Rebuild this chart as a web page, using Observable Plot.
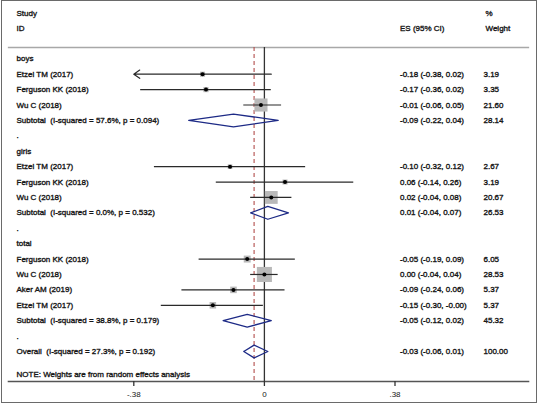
<!DOCTYPE html>
<html><head><meta charset="utf-8">
<script src="https://cdn.jsdelivr.net/npm/d3@7"></script>
<script src="https://cdn.jsdelivr.net/npm/@observablehq/plot@0.6"></script>
<style>
html,body{margin:0;padding:0;background:#fff;}
#wrap{position:relative;width:538px;height:408px;}
#border{position:absolute;left:0.5px;top:0;width:536px;height:403px;border:1.5px solid #6a6a6a;box-sizing:border-box;pointer-events:none;}
</style></head>
<body><div id="wrap"><div id="border"></div></div>
<script>
const groupNames = ["boys", "girls", "total"];
const studyGroup = ["boys","boys","boys","girls","girls","girls","total","total","total","total"];
const studyNames = ["Etzel TM (2017)","Ferguson KK (2018)","Wu C (2018)",
                    "Etzel TM (2017)","Ferguson KK (2018)","Wu C (2018)",
                    "Ferguson KK (2018)","Wu C (2018)","Aker AM (2019)","Etzel TM (2017)"];
const studyES     = [-0.18, -0.17, -0.01, -0.10, 0.06, 0.02, -0.05, 0.00, -0.09, -0.15];
const studyLo     = [-0.38, -0.36, -0.06, -0.32, -0.14, -0.04, -0.19, -0.04, -0.24, -0.30];
const studyHi     = [0.02, 0.02, 0.05, 0.12, 0.26, 0.08, 0.09, 0.04, 0.06, -0.003];
const studyWeight = [3.19, 3.35, 21.60, 2.67, 3.19, 20.67, 6.05, 28.53, 5.37, 5.37];
const subES     = [-0.09, 0.01, -0.05];
const subLo     = [-0.22, -0.04, -0.12];
const subHi     = [0.04, 0.07, 0.02];
const subWeight = [28.14, 26.53, 45.32];
const subI2     = [57.6, 0.0, 38.8];
const subP      = [0.094, 0.532, 0.179];
const overallES = -0.03, overallLo = -0.06, overallHi = 0.01, overallWeight = 100.00;
const overallI2 = 27.3, overallP = 0.192;
const xTicks = [-0.38, 0, 0.38];
const xTickLabels = ["-.38", "0", ".38"];
const noteText = "NOTE: Weights are from random effects analysis";

const f2 = v => v.toFixed(2);
const esText = (e, l, h) => `${f2(e)} (${f2(l)}, ${f2(h)})`;

// build rows
const rows = [];
let idx = 0;
groupNames.forEach((g, gi) => {
  rows.push({i: idx++, type: "group", label: g});
  studyNames.forEach((n, k) => {
    if (studyGroup[k] !== g) return;
    rows.push({i: idx++, type: "study", label: n, es: studyES[k], lo: studyLo[k], hi: studyHi[k], w: studyWeight[k]});
  });
  rows.push({i: idx++, type: "sub", label: `Subtotal\u00a0 (I-squared = ${subI2[gi].toFixed(1)}%, p = ${subP[gi].toFixed(3)})`,
             es: subES[gi], lo: subLo[gi], hi: subHi[gi], w: subWeight[gi]});
  rows.push({i: idx++, type: "dot", label: "."});
});
rows.push({i: idx++, type: "sub", label: `Overall\u00a0 (I-squared = ${overallI2.toFixed(1)}%, p = ${overallP.toFixed(3)})`,
           es: overallES, lo: overallLo, hi: overallHi, w: overallWeight});

const studies = rows.filter(r => r.type === "study");
const pooled = rows.filter(r => r.type === "sub");
const valued = rows.filter(r => r.es !== undefined);
const xMin = d3.min(xTicks);
const arrowRows = studies.filter(r => r.lo <= xMin);
const lineRows = studies.filter(r => r.lo > xMin);

const halfH = 0.415;
const diamonds = pooled.flatMap(r => [
  {z: r.i, x: r.lo, y: r.i},
  {z: r.i, x: r.es, y: r.i - halfH},
  {z: r.i, x: r.hi, y: r.i},
  {z: r.i, x: r.es, y: r.i + halfH},
  {z: r.i, x: r.lo, y: r.i}
]);

const font = "Arial, 'Liberation Sans', sans-serif";
const txt = "#161616";
const T = {fill: txt, stroke: txt, strokeWidth: 0.35, paintOrder: "stroke", fontSize: 8, textAnchor: "start"};

const chart = Plot.plot({
  width: 538, height: 408,
  marginTop: 47, marginBottom: 27, marginLeft: 8, marginRight: 10,
  style: {fontFamily: font, fontSize: "8px", background: "transparent", overflow: "visible"},
  x: {domain: [xMin, d3.max(xTicks)], range: [133.3, 394.5]},
  y: {domain: [0, rows.length - 1], range: [58.3, 351], axis: null},
  r: {range: [0, 8.5]},
  marks: [
    Plot.frame({anchor: "top", stroke: "#a8a8a8", strokeWidth: 1.3}),
    Plot.frame({anchor: "bottom", stroke: "#555", strokeWidth: 1.6}),
    Plot.ruleX([0], {stroke: "#333", strokeWidth: 1.3}),
    Plot.ruleX([overallES], {stroke: "#b24d4b", strokeWidth: 1.1, strokeDasharray: "4,3"}),
    Plot.dot(studies, {x: "es", y: "i", r: "w", symbol: "square", fill: "#b9b9b9", stroke: "none"}),
    Plot.ruleY(lineRows, {y: "i", x1: "lo", x2: "hi", stroke: "#2a2a2a", strokeWidth: 1.2}),
    Plot.arrow(arrowRows, {x1: "hi", y1: "i", x2: "lo", y2: "i", stroke: "#2a2a2a", strokeWidth: 1.2, headLength: 9, headAngle: 70, bend: 0}),
    Plot.dot(studies, {x: "es", y: "i", r: 2, fill: "#000", stroke: "none"}),
    Plot.line(diamonds, {x: "x", y: "y", z: "z", stroke: "#1d2a86", strokeWidth: 1.3, fill: "none"}),
    Plot.text(rows, {...T, y: "i", text: "label", frameAnchor: "left", dx: 8}),
    Plot.text(valued, {...T, y: "i", text: d => esText(d.es, d.lo, d.hi), frameAnchor: "left", dx: 391.5}),
    Plot.text(valued, {...T, y: "i", text: d => f2(d.w), frameAnchor: "left", dx: 475}),
    Plot.text(["Study"], {...T, frameAnchor: "top-left", dx: 8, dy: -34.3, lineAnchor: "middle"}),
    Plot.text(["ID"], {...T, frameAnchor: "top-left", dx: 8, dy: -19, lineAnchor: "middle"}),
    Plot.text(["ES (95% CI)"], {...T, frameAnchor: "top-left", dx: 391.5, dy: -19, lineAnchor: "middle"}),
    Plot.text(["%"], {...T, frameAnchor: "top-left", dx: 477, dy: -34.3, lineAnchor: "middle"}),
    Plot.text(["Weight"], {...T, frameAnchor: "top-left", dx: 477, dy: -19, lineAnchor: "middle"}),
    Plot.text([noteText], {...T, frameAnchor: "bottom-left", dx: 8, dy: -7, lineAnchor: "middle"}),
    Plot.axisX({ticks: xTicks, tickFormat: (d, k) => xTickLabels[k], tickSize: 5, tickPadding: 5, fontSize: 8, stroke: "#333", strokeWidth: 1.3, color: txt, label: null})
  ]
});
document.getElementById("wrap").appendChild(chart);
</script>
</body></html>
